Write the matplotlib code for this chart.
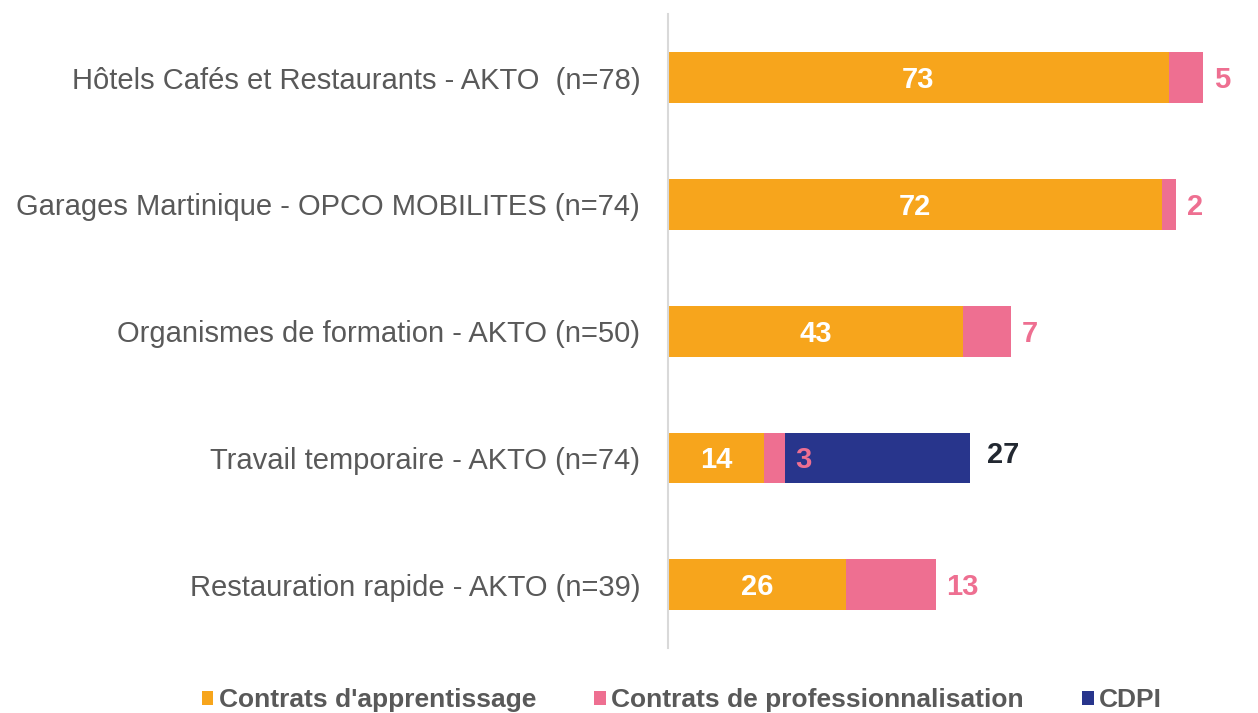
import matplotlib.pyplot as plt

plt.rcParams['font.family'] = ['Liberation Sans', 'DejaVu Sans']

categories = [
    "Hôtels Cafés et Restaurants - AKTO  (n=78)",
    "Garages Martinique - OPCO MOBILITES (n=74)",
    "Organismes de formation - AKTO (n=50)",
    "Travail temporaire - AKTO (n=74)",
    "Restauration rapide - AKTO (n=39)",
]
apprentissage = [73, 72, 43, 14, 26]
professionnalisation = [5, 2, 7, 3, 13]
cdpi = [0, 0, 0, 27, 0]

series_names = ["Contrats d'apprentissage", "Contrats de professionnalisation", "CDPI"]
colors = ["#F7A51C", "#EE6F91", "#28358C"]

fig = plt.figure(figsize=(12.58, 7.13), dpi=100)
ax = fig.add_axes([0.531, 0.091, 0.469, 0.889])

y = list(range(len(categories)))
h = 0.4
ax.barh(y, apprentissage, height=h, color=colors[0], label=series_names[0])
left2 = apprentissage
ax.barh(y, professionnalisation, left=left2, height=h, color=colors[1],
        label=series_names[1])
left3 = [a + p for a, p in zip(apprentissage, professionnalisation)]
ax.barh(y, cdpi, left=left3, height=h, color=colors[2], label=series_names[2])

# data labels
for i in y:
    ax.text(apprentissage[i] / 2, i + 0.02, str(apprentissage[i]), ha="center",
            va="center", color="white", fontsize=21, fontweight="bold")
    ax.text(left3[i] + 1.6, i + 0.02, str(professionnalisation[i]), ha="left",
            va="center", color=colors[1], fontsize=21, fontweight="bold")
    if cdpi[i]:
        ax.text(left3[i] + cdpi[i] + 2.5, i - 0.02, str(cdpi[i]), ha="left",
                va="center", color="#222831", fontsize=21, fontweight="bold")

ax.set_xlim(0, 86)
ax.set_ylim(4.5, -0.5)
ax.set_yticks(y)
ax.set_yticklabels(categories, fontsize=21, color="#595959")
ax.tick_params(axis="y", length=0, pad=20)
ax.set_xticks([])
for side in ["top", "right", "bottom"]:
    ax.spines[side].set_visible(False)
ax.spines["left"].set_color("#D9D9D9")
ax.spines["left"].set_linewidth(1.5)

leg = fig.legend(loc="lower center", bbox_to_anchor=(0.542, -0.032), ncol=3,
                 frameon=False, handlelength=0.45, handleheight=0.45,
                 handletextpad=0.2, columnspacing=2.2,
                 prop={"size": 19, "weight": "bold"})
for t in leg.get_texts():
    t.set_color("#595959")

fig.savefig("out.png", dpi=100)
